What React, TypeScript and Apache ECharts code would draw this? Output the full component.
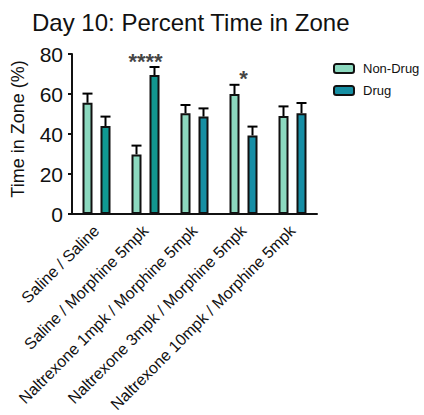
import React, { useEffect, useRef } from "react";
import * as echarts from "echarts";

const categories = [
  "Saline / Saline",
  "Saline / Morphine 5mpk",
  "Naltrexone 1mpk / Morphine 5mpk",
  "Naltrexone 3mpk / Morphine 5mpk",
  "Naltrexone 10mpk / Morphine 5mpk",
];
const nonDrug = [55.6, 29.8, 50.4, 60.0, 49.0];
const nonDrugErr = [4.6, 4.4, 4.1, 4.6, 4.8];
const drug = [44.0, 69.5, 48.7, 39.3, 50.4];
const drugErr = [4.7, 4.0, 4.1, 4.4, 5.1];
const stars = ["", "****", "", "*", ""];
const yTicks = [0, 20, 40, 60, 80];

const nonDrugColor = "#8cd9bf";
const drugColors = ["#109a93", "#12968f", "#168fa3", "#168ea6", "#168ea5"];

const FONT = "'Liberation Sans', Arial, Helvetica, sans-serif";
const BAR_W = 10;
const GAP = 0.8;
const OFFSET = (BAR_W + BAR_W * GAP) / 2;

export default function App() {
  const ref = useRef<HTMLDivElement>(null);
  useEffect(() => {
    document.body.style.margin = "0";
    const chart = echarts.init(ref.current!, null, { renderer: "svg" });

    const errRender = (sign: number) => (params: any, api: any) => {
      const x = api.value(0);
      const v = api.value(1);
      const e = api.value(2);
      const p0 = api.coord([x, v]);
      const p1 = api.coord([x, v + e]);
      const cx = p0[0] + sign * OFFSET;
      return {
        type: "group",
        children: [
          {
            type: "line",
            shape: { x1: cx, y1: p0[1], x2: cx, y2: p1[1] },
            style: { stroke: "#000", lineWidth: 2 },
          },
          {
            type: "line",
            shape: { x1: cx - 5, y1: p1[1], x2: cx + 5, y2: p1[1] },
            style: { stroke: "#000", lineWidth: 2 },
          },
        ],
      };
    };

    const starData = categories.map((c, i) => ({
      value: [i, Math.max(nonDrug[i] + nonDrugErr[i], drug[i] + drugErr[i])],
      label: { formatter: stars[i] },
    }));

    chart.setOption({
      animation: false,
      textStyle: { fontFamily: FONT },
      legend: {
        orient: "vertical",
        left: 333,
        top: 62,
        padding: 0,
        itemWidth: 20,
        itemHeight: 9,
        itemGap: 9,
        textStyle: { fontSize: 13, color: "#111", fontFamily: FONT, padding: [0, 0, 0, 4] },
        data: [
          { name: "Non-Drug", itemStyle: { color: nonDrugColor, borderColor: "#111", borderWidth: 2 } },
          { name: "Drug", itemStyle: { color: drugColors[2], borderColor: "#111", borderWidth: 2 } },
        ],
      },
      grid: { left: 72, right: 107, top: 54, bottom: 201 },
      xAxis: {
        type: "category",
        data: categories,
        axisLine: { lineStyle: { color: "#111", width: 2 } },
        axisTick: { alignWithLabel: true, length: 4, lineStyle: { color: "#111", width: 2 } },
        axisLabel: {
          rotate: 45,
          fontSize: 16,
          margin: 14,
          color: "#111",
          interval: 0,
          fontFamily: FONT,
        },
      },
      yAxis: {
        type: "value",
        min: yTicks[0],
        max: yTicks[yTicks.length - 1],
        interval: 20,
        splitLine: { show: false },
        axisLine: { show: true, lineStyle: { color: "#111", width: 2 } },
        axisTick: { show: true, length: 4, lineStyle: { color: "#111", width: 2 } },
        axisLabel: { fontSize: 21, color: "#111", margin: 9, fontFamily: FONT },
      },
      graphic: [
        {
          type: "text",
          x: 32,
          y: 22,
          style: {
            text: "Day 10: Percent Time in Zone",
            fontSize: 24,
            fontFamily: FONT,
            fill: "#111",
            align: "left",
            verticalAlign: "middle",
          },
        },
        {
          type: "text",
          x: 18,
          y: 129,
          rotation: Math.PI / 2,
          style: {
            text: "Time in Zone (%)",
            fontSize: 18,
            fontFamily: FONT,
            fill: "#111",
            align: "center",
            verticalAlign: "middle",
          },
        },
      ],
      series: [
        {
          name: "Non-Drug",
          type: "bar",
          barWidth: BAR_W,
          barGap: GAP * 100 + "%",
          data: nonDrug,
          itemStyle: { color: nonDrugColor, borderColor: "#111", borderWidth: 2 },
        },
        {
          name: "Drug",
          type: "bar",
          barWidth: BAR_W,
          barGap: GAP * 100 + "%",
          data: drug.map((v, i) => ({ value: v, itemStyle: { color: drugColors[i] } })),
          itemStyle: { color: drugColors[2], borderColor: "#111", borderWidth: 2 },
        },
        {
          type: "custom",
          renderItem: errRender(-1),
          data: nonDrug.map((v, i) => [i, v, nonDrugErr[i]]),
          z: 3,
        },
        {
          type: "custom",
          renderItem: errRender(1),
          data: drug.map((v, i) => [i, v, drugErr[i]]),
          z: 3,
        },
        {
          type: "scatter",
          symbolSize: 0,
          data: starData,
          label: {
            show: true,
            position: "top",
            distance: 0,
            offset: [0, 5],
            fontSize: 22,
            fontWeight: "bold",
            color: "#111",
            fontFamily: FONT,
          },
          z: 4,
        },
      ],
    });
    return () => chart.dispose();
  }, []);
  return <div ref={ref} style={{ width: 424, height: 415 }} />;
}
